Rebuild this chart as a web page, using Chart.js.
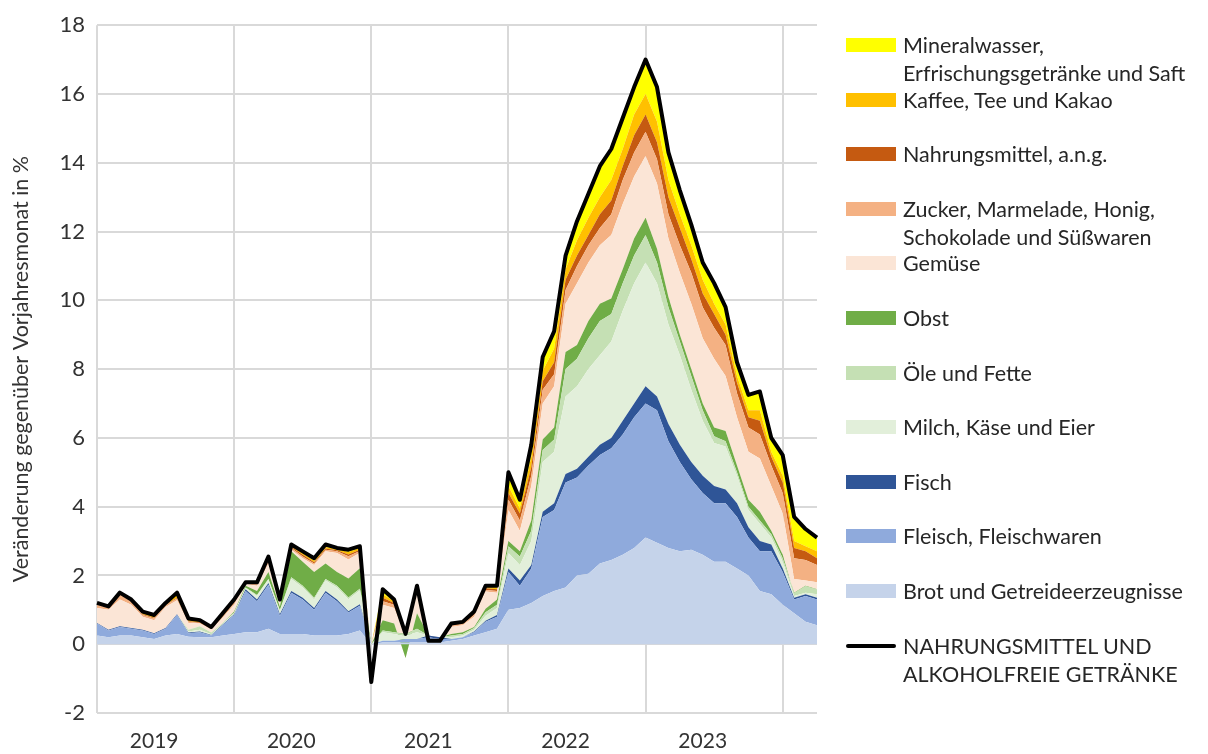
<!DOCTYPE html>
<html>
<head>
<meta charset="utf-8">
<script src="https://cdn.jsdelivr.net/npm/chart.js@4.4.1/dist/chart.umd.min.js"></script>
<style>
  body { margin:0; background:#fff; }
  #wrap { position:relative; width:1208px; height:754px; font-family: Lato, "Open Sans", sans-serif; color:#262626; }
  #legend { position:absolute; left:846px; top:31px; }
  .item { position:relative; height:54.6px; font-size:21.5px; line-height:28px; padding-left:57px; white-space:nowrap; }
  .sw { position:absolute; left:0; top:7px; width:50px; height:14px; }
  .ln { position:absolute; left:0; top:12px; width:50px; height:4px; background:#000; border-radius:2px; }
</style>
</head>
<body>
<div id="wrap">
  <canvas id="chart" width="1208" height="754"></canvas>
  <div id="legend"></div>
</div>
<script>
// Monatswerte Jan 2019 bis Apr 2024, Beiträge in Prozentpunkten
const years = ['2019','2020','2021','2022','2023','2024'];
const nMonths = 64;

const brot = [
  0.25,0.2,0.25,0.25,0.2,0.15,0.25,0.3,0.22,0.2,0.2,0.25,
  0.3,0.35,0.35,0.45,0.3,0.3,0.3,0.25,0.25,0.25,0.3,0.4,
  0,0.05,0.05,0.05,0.05,0.05,0.05,0.1,0.15,0.25,0.35,0.45,
  1.0,1.05,1.2,1.4,1.55,1.65,2.0,2.05,2.35,2.45,2.6,2.8,
  3.1,2.95,2.8,2.7,2.75,2.6,2.4,2.4,2.2,2.0,1.55,1.45,
  1.15,0.9,0.65,0.55];
const fleisch = [
  0.35,0.2,0.25,0.2,0.2,0.15,0.2,0.55,0.1,0.15,0.05,0.3,
  0.55,1.2,0.9,1.28,0.52,1.2,1.0,0.75,1.25,1.0,0.62,0.72,
  0,0.05,0.05,0.1,0.1,0.15,0.1,0.05,0.05,0.1,0.3,0.35,
  1.1,0.65,1.0,2.3,2.35,3.05,2.85,3.15,3.15,3.25,3.5,3.8,
  3.9,3.85,3.1,2.6,2.05,1.8,1.7,1.7,1.5,1.1,1.15,1.25,
  0.95,0.4,0.75,0.75];
const fisch = [
  0.02,0.02,0.02,0.02,0.02,0.02,0.02,0.02,0.02,0.02,0.02,0.02,
  0.02,0.05,0.05,0.05,0.05,0.05,0.05,0.05,0.05,0.05,0.04,0.04,
  0,0,0,0,0,0.05,0.05,0,0,0.02,0.03,0.05,
  0.1,0.15,0.1,0.15,0.2,0.25,0.25,0.25,0.3,0.3,0.4,0.4,
  0.5,0.4,0.5,0.5,0.5,0.5,0.5,0.4,0.4,0.3,0.3,0.2,
  0.1,0.05,0.05,0.05];
const milch = [
  0,0,0,0,0,0,0,0,0.03,0.05,0.02,0.02,
  0.03,0.03,0.1,0.1,0.1,0.35,0.3,0.25,0.3,0.35,0.35,0.4,
  0,0.25,0.2,0.1,0.2,0,0,0.05,0.05,0.05,0.15,0.2,
  0.45,0.45,0.7,1.45,1.5,2.25,2.4,2.55,2.6,2.8,3.2,3.5,
  3.6,3.3,2.9,2.6,2.1,1.6,1.25,1.25,0.8,0.5,0.5,0.2,
  0.2,0.05,0.05,0.1];
const oele = [
  0,0,0,0,0,0,0,0,0.05,0.1,0.05,0.03,
  0.02,0.02,0.03,0.02,0.02,0.05,0.05,0.05,0.05,0.05,0.05,0.05,
  0,0.05,0.05,0.05,0.1,0,0,0.05,0.05,0.05,0.1,0.1,
  0.2,0.25,0.3,0.35,0.35,0.8,0.8,0.9,1.0,0.8,0.8,0.8,
  0.8,0.6,0.5,0.4,0.4,0.3,0.2,0.15,0.1,0.1,0.1,0.1,
  0.1,0.1,0.2,0.15];
const obst = [
  0,0,0,0,0,0,0,0,0,0,0,0,
  0.03,0.05,0.12,0.2,0.1,0.75,0.7,0.75,0.45,0.4,0.55,0.6,
  0,0.3,0.25,-0.7,0.45,0,0,0.05,0.05,0.03,0.1,0.15,
  0.15,0.15,0.3,0.3,0.35,0.5,0.4,0.5,0.5,0.45,0.4,0.5,
  0.5,0.4,0.3,0.2,0.2,0.2,0.25,0.3,0.2,0.2,0.25,0.1,
  0.1,-0.05,-0.05,0];
const gemuese = [
  0.43,0.58,0.78,0.68,0.38,0.38,0.61,0.41,0.2,0.08,0.08,0.15,
  0.2,0.05,0.15,0.25,0.1,0.05,0.1,0.2,0.35,0.55,0.55,0.45,
  0,0.45,0.45,0.6,0.7,-0.2,-0.15,0.2,0.2,0.3,0.5,0.2,
  0.9,0.6,1.0,1.05,1.2,1.4,1.8,1.7,1.7,1.85,1.9,1.8,
  1.8,1.9,1.7,1.8,1.9,1.9,2.0,1.6,1.4,1.4,1.55,1.3,
  1.2,0.45,0.2,0.2];
const zucker = [
  0.1,0.05,0.15,0.1,0.05,0.05,0.05,0.05,0.03,0.02,0.02,0.03,
  0.05,0.02,0.05,0.1,0.05,0.05,0.05,0.05,0.05,0.05,0.1,0.05,
  0,0.1,0.1,0.05,0.05,0.03,0.03,0.05,0.03,0.05,0.05,0.05,
  0.3,0.3,0.3,0.4,0.35,0.4,0.5,0.5,0.5,0.6,0.7,0.7,
  0.7,0.7,0.7,0.8,0.9,0.9,0.9,0.9,0.7,0.7,0.7,0.6,
  0.6,0.6,0.6,0.5];
const ang = [
  0.02,0.02,0.02,0.02,0.02,0.02,0.02,0.02,0.02,0.02,0.02,0.02,
  0.03,0.01,0.03,0.08,0.04,0.03,0.05,0.03,0.03,0.03,0.05,0.04,
  0,0.1,0.05,0.03,0.03,0.02,0.02,0.03,0.02,0.05,0.05,0.05,
  0.2,0.2,0.25,0.25,0.35,0.3,0.3,0.3,0.4,0.4,0.4,0.5,
  0.5,0.5,0.5,0.5,0.4,0.4,0.4,0.3,0.3,0.3,0.4,0.25,
  0.3,0.3,0.25,0.2];
const kaffee = [
  0.01,0.01,0.01,0.01,0.05,0.05,0.03,0.1,0.05,0.04,0.02,0.05,
  0.02,0.01,0.01,0.02,0.02,0.02,0.05,0.05,0.05,0.04,0.07,0.05,
  0,0.1,0.05,0.01,0.01,0,0,0.01,0.03,0.03,0.05,0.05,
  0.2,0.15,0.3,0.3,0.4,0.3,0.45,0.5,0.5,0.6,0.5,0.6,
  0.6,0.6,0.5,0.4,0.4,0.4,0.3,0.3,0.2,0.2,0.3,0.15,
  0.2,0.2,0.15,0.2];
const mineral = [
  0.02,0.02,0.02,0.02,0.03,0.03,0.02,0.05,0.03,0.02,0.02,0.03,
  0.05,0.01,0.01,0,0,0.05,0.05,0.07,0.07,0.03,0.07,0.05,
  0,0.15,0.05,0.01,0.01,0,0,0.01,0.02,0.02,0.02,0.05,
  0.4,0.25,0.35,0.4,0.5,0.4,0.55,0.7,0.9,0.9,0.9,0.8,
  1.0,1.0,0.8,0.7,0.6,0.5,0.6,0.5,0.4,0.45,0.55,0.4,
  0.6,0.7,0.5,0.4];
const gesamt = [
  1.2,1.1,1.5,1.3,0.95,0.85,1.2,1.5,0.75,0.7,0.5,0.9,
  1.3,1.8,1.8,2.55,1.3,2.9,2.7,2.5,2.9,2.8,2.75,2.85,
  -1.1,1.6,1.3,0.3,1.7,0.1,0.1,0.6,0.65,0.95,1.7,1.7,
  5.0,4.2,5.8,8.35,9.1,11.3,12.3,13.1,13.9,14.4,15.3,16.2,
  17.0,16.2,14.3,13.2,12.2,11.1,10.5,9.8,8.2,7.25,7.35,6.0,
  5.5,3.7,3.35,3.1];

// bottom to top
const series = [
  { name: ['Brot und Getreideerzeugnisse'], data: brot, color: '#c5d3ea' },
  { name: ['Fleisch, Fleischwaren'], data: fleisch, color: '#8faadc' },
  { name: ['Fisch'], data: fisch, color: '#2f5597' },
  { name: ['Milch, Käse und Eier'], data: milch, color: '#e2efda' },
  { name: ['Öle und Fette'], data: oele, color: '#c5e0b4' },
  { name: ['Obst'], data: obst, color: '#70ad47' },
  { name: ['Gemüse'], data: gemuese, color: '#fbe5d6' },
  { name: ['Zucker, Marmelade, Honig,', 'Schokolade und Süßwaren'], data: zucker, color: '#f4b183' },
  { name: ['Nahrungsmittel, a.n.g.'], data: ang, color: '#c55a11' },
  { name: ['Kaffee, Tee und Kakao'], data: kaffee, color: '#ffc000' },
  { name: ['Mineralwasser,', 'Erfrischungsgetränke und Saft'], data: mineral, color: '#ffff00' }
];
const totalName = ['NAHRUNGSMITTEL UND', 'ALKOHOLFREIE GETRÄNKE'];

const labels = [];
for (let i = 0; i < nMonths; i++) {
  const y = years[Math.floor(i / 12)];
  labels.push(y + '-' + String(i % 12 + 1).padStart(2, '0'));
}

const datasets = series.map((s, i) => ({
  label: s.name.join(' '),
  data: s.data,
  stack: 'food',
  backgroundColor: s.color,
  borderColor: s.color,
  borderWidth: 0,
  pointRadius: 0,
  tension: 0,
  fill: i === 0 ? 'origin' : '-1'
}));
datasets.push({
  label: totalName.join(' '),
  data: gesamt,
  stack: 'total',
  borderColor: '#000',
  borderWidth: 4,
  borderJoinStyle: 'round',
  pointRadius: 0,
  tension: 0,
  fill: false,
  order: -1
});

const font = 'Lato, "Open Sans", sans-serif';
Chart.defaults.font.family = font;
Chart.defaults.color = '#333';

new Chart(document.getElementById('chart'), {
  type: 'line',
  data: { labels, datasets },
  options: {
    responsive: false,
    animation: false,
    layout: { padding: { top: 22, right: 391, bottom: 0, left: 0 } },
    plugins: { legend: { display: false }, tooltip: { enabled: false } },
    scales: {
      x: {
        offset: false,
        grid: {
          color: ctx => (ctx.index % 12 === 0) ? '#d9d9d9' : 'rgba(0,0,0,0)',
          lineWidth: 2,
          drawTicks: false
        },
        border: { display: false },
        ticks: {
          autoSkip: false,
          maxRotation: 0,
          padding: 16,
          font: { size: 21 },
          color: '#333',
          callback: function (v) {
            const l = this.getLabelForValue(v);
            return l.endsWith('-06') ? l.slice(0, 4) : '';
          }
        },
        afterFit: s => { s.height = 41; }
      },
      y: {
        stacked: 'single',
        min: -2, max: 18,
        grid: { color: '#d9d9d9', lineWidth: 2, drawTicks: false },
        border: { display: false },
        ticks: { stepSize: 2, padding: 12, font: { size: 22 }, color: '#333' },
        title: {
          display: true,
          text: 'Veränderung gegenüber Vorjahresmonat in %',
          font: { size: 21.5 },
          color: '#333',
          padding: { top: 8, bottom: 0 }
        },
        afterFit: s => { s.width = 97; }
      }
    }
  }
});

// legend, top to bottom
const legend = document.getElementById('legend');
series.slice().reverse().forEach(s => {
  const d = document.createElement('div');
  d.className = 'item';
  d.innerHTML = '<span class="sw" style="background:' + s.color + '"></span>' + s.name.join('<br>');
  legend.appendChild(d);
});
const t = document.createElement('div');
t.className = 'item';
t.innerHTML = '<span class="ln"></span>' + totalName.join('<br>');
legend.appendChild(t);
</script>
</body>
</html>
